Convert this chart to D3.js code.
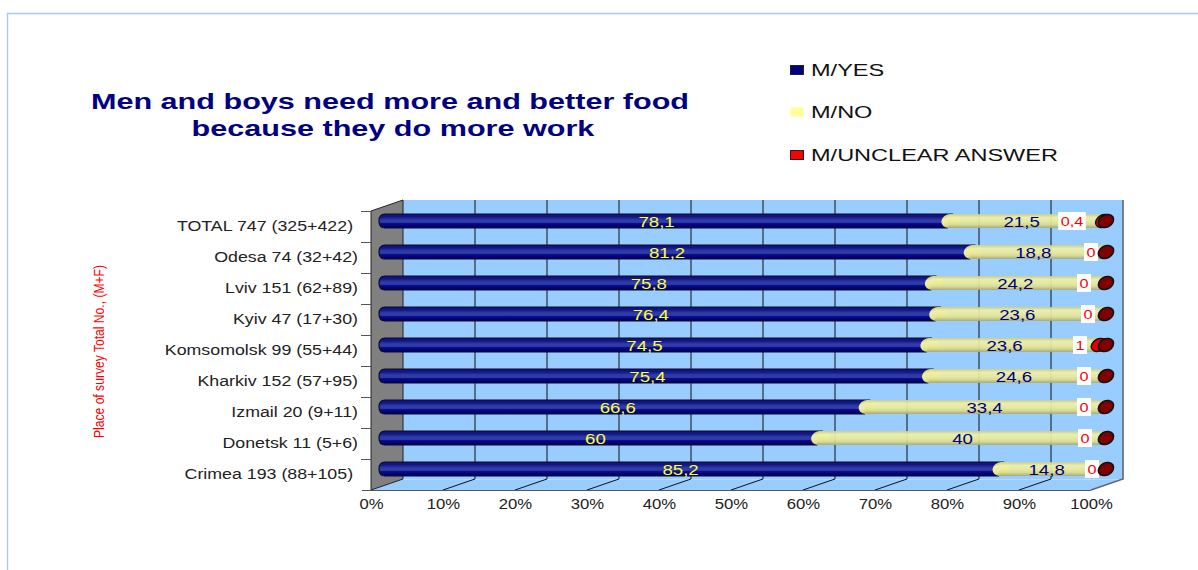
<!DOCTYPE html>
<html><head><meta charset="utf-8">
<script src="https://d3js.org/d3.v7.min.js"></script>
<style>
html,body{margin:0;padding:0;background:#fff;overflow:hidden}
svg{display:block}
text{font-family:"Liberation Sans",Arial,sans-serif}
</style></head><body><svg id="c" width="1198" height="570"></svg>
<script>
const categories=["TOTAL 747 (325+422) ","Odesa 74 (32+42)","Lviv 151 (62+89)","Kyiv 47 (17+30)","Komsomolsk 99 (55+44)","Kharkiv 152 (57+95)","Izmail 20 (9+11)","Donetsk 11 (5+6)","Crimea 193 (88+105) "];
const yesValues=[78.1,81.2,75.8,76.4,74.5,75.4,66.6,60,85.2];
const noValues=[21.5,18.8,24.2,23.6,23.6,24.6,33.4,40,14.8];
const unclearValues=[0.4,0,0,0,1,0,0,0,0];
const yesLabels=["78,1","81,2","75,8","76,4","74,5","75,4","66,6","60","85,2"];
const noLabels=["21,5","18,8","24,2","23,6","23,6","24,6","33,4","40","14,8"];
const unclearLabels=["0,4","0","0","0","1","0","0","0","0"];
const unclearNudge=[-16,3,-4,0,-8,-4,-4,-3,4];
const legendNames=["M/YES","M/NO","M/UNCLEAR ANSWER"];
const legendColors=["#000080","#FFFF99","#FF0000"];
const titleLines=["Men and boys need more and better food","because they do more work"];
const xTicks=[0,.1,.2,.3,.4,.5,.6,.7,.8,.9,1];

const svg=d3.select("#c");
const dx=32,dy=-11;
const x=d3.scaleLinear().domain([0,1]).range([371,1091]);
const y=d3.scaleBand().domain(categories).range([211,490]);
const bx=v=>x(v)+dx/2;            // bars sit halfway through the depth
const by=c=>y(c)+y.bandwidth()/2+dy/2;
const barH=14;

function stretch(sel,k){sel.each(function(){const w=this.getComputedTextLength();
  d3.select(this).attr("textLength",w*k).attr("lengthAdjust","spacingAndGlyphs");});return sel;}

// defs
const defs=svg.append("defs");
function grad(id,stops){const g=defs.append("linearGradient").attr("id",id).attr("x1",0).attr("y1",0).attr("x2",0).attr("y2",1);
  stops.forEach(s=>g.append("stop").attr("offset",s[0]).attr("stop-color",s[1]));}
grad("gy",[[0,"#14146e"],[.2,"#14148a"],[.42,"#2d3ca6"],[.6,"#2d3ca6"],[.68,"#0c0c88"],[.9,"#000070"],[1,"#000050"]]);
grad("gn",[[0,"#cccc8c"],[.25,"#f0f0a8"],[.55,"#eaea9c"],[.75,"#dcdc8c"],[1,"#a8a874"]]);

// page frame
svg.append("path").attr("d","M7.5,570V13.5H1198").attr("fill","none").attr("stroke","#A6CAF0").attr("stroke-width",1.4);

// title
stretch(svg.append("g").selectAll("text").data(titleLines).join("text").attr("fill","#000080").attr("font-weight","bold").attr("font-size",22).attr("text-anchor","middle")
  .attr("x",(d,i)=>i?393:390).attr("y",(d,i)=>i?136:109).text(d=>d),1.39);

// legend
const lg=svg.append("g").selectAll("g").data(legendNames).join("g").attr("transform",(d,i)=>`translate(790,${[70,112,155][i]})`);
lg.append("rect").attr("x",0.5).attr("y",-4.5).attr("width",13).attr("height",9).attr("fill",(d,i)=>legendColors[i]).attr("stroke",(d,i)=>i==1?"none":"#222").attr("stroke-width",1);
stretch(lg.append("text").attr("x",21).attr("y",6).attr("font-size",16).attr("fill","#111").text(d=>d),1.47);

// back wall, floor, side wall
const x0=x(0),x1=x(1),yT=y.range()[0],yB=y.range()[1];
svg.append("rect").attr("x",x0+dx).attr("y",yT+dy).attr("width",x1-x0).attr("height",yB-yT).attr("fill","#99CCFF");
svg.append("path").attr("d",`M${x0},${yB}L${x1},${yB}L${x1+dx},${yB+dy}L${x0+dx},${yB+dy}Z`).attr("fill","#99CCFF");
svg.append("path").attr("d",`M${x0+dx},${yB+dy+.5}H${x1+dx}`).attr("stroke","#b4dcff").attr("stroke-width",1.2);
svg.append("path").attr("d",`M${x0},${yT}L${x0+dx},${yT+dy}V${yB+dy}L${x0},${yB}Z`).attr("fill","#808080").attr("stroke","#222").attr("stroke-width",1);
// gridlines
svg.append("g").selectAll("path").data(xTicks.slice(1,-1)).join("path")
  .attr("d",v=>`M${x(v)},${yB}L${x(v)+dx},${yB+dy}V${yT+dy}`).attr("fill","none").attr("stroke","#111").attr("stroke-width",1);
// right edge
svg.append("path").attr("d",`M${x1},${yB}L${x1+dx},${yB+dy}V${yT+dy}`).attr("fill","none").attr("stroke","#666").attr("stroke-width",1.6);

// x axis
const ax=svg.append("g").attr("transform",`translate(0,${yB})`)
  .call(d3.axisBottom(x).tickValues(xTicks).tickFormat(d3.format(".0%")).tickSize(0).tickPadding(9));
ax.select(".domain").remove();
stretch(ax.selectAll("text").attr("font-size",14).attr("fill","#222").attr("font-family",null),1.19);
svg.append("path").attr("d",`M${x0-9},${yB+.5}H${x1}`).attr("stroke","#555").attr("stroke-width",1);

// y axis labels + boundary ticks
const ay=svg.append("g").attr("transform",`translate(${x0},0)`)
  .call(d3.axisLeft(y).tickSize(0).tickPadding(13));
ay.select(".domain").remove();
stretch(ay.selectAll("text").attr("font-size",14).attr("fill","#222").style("white-space","pre").attr("font-family",null),1.27);
svg.append("g").selectAll("path").data(categories.map(c=>y(c))).join("path")
  .attr("d",v=>`M${x0-10},${v+.5}H${x0}`).attr("stroke","#555").attr("stroke-width",1);

// y title
svg.append("text").attr("transform","translate(104,438) rotate(-90)").attr("fill","#FF0000").attr("font-size",15)
  .attr("textLength",173).attr("lengthAdjust","spacingAndGlyphs").text("Place of survey Total No., (M+F)");

// stacked 3-D bars
const rows=categories.map((c,i)=>{const t=yesValues[i]+noValues[i]+unclearValues[i];
  return {c,i,yes:yesValues[i]/t,no:noValues[i]/t,un:unclearValues[i]/t};});
const bars=svg.append("g").selectAll("g").data(rows).join("g").attr("transform",d=>`translate(0,${by(d.c)})`);
const capRot=-30;
// no
bars.append("rect").attr("x",d=>bx(d.yes)).attr("y",-barH/2).attr("height",barH)
  .attr("width",d=>bx(d.yes+d.no)-bx(d.yes)).attr("fill","url(#gn)").attr("fill-opacity",.92);
// white label plates sit on the no bar
const uG=bars.append("g").attr("transform",d=>`translate(${1088+unclearNudge[d.i]},0)`);
uG.append("rect").attr("fill","#fff");
const uT=uG.append("text").attr("y",4.5).attr("text-anchor","middle").attr("font-size",13).attr("fill","#FF0000").text(d=>unclearLabels[d.i]);
stretch(uT,1.25);
uT.each(function(){const w=this.getComputedTextLength();
  d3.select(this.parentNode).select("rect").attr("x",-w/2-2.5).attr("width",w+5).attr("y",-9).attr("height",18);});
// unclear
bars.filter(d=>d.un>0).append("rect").attr("x",d=>bx(d.yes+d.no)).attr("y",-barH/2).attr("height",barH)
  .attr("width",d=>bx(1)-bx(d.yes+d.no)).attr("fill","#E00000");
bars.filter(d=>d.un>0).append("ellipse").attr("transform",d=>`translate(${bx(d.yes+d.no)-1},0) rotate(${capRot})`)
  .attr("rx",8).attr("ry",6).attr("fill","#E00000").attr("stroke","#111").attr("stroke-width",1.4);
// end cap
bars.append("ellipse").attr("transform",`translate(${bx(1)-1},0) rotate(${capRot})`)
  .attr("rx",8).attr("ry",6).attr("fill","#800000").attr("stroke","#111").attr("stroke-width",1.6);
// yes
bars.append("path").attr("d",d=>{const e=bx(d.yes),l=bx(0)-8,h=barH/2,r=6;
   return `M${e+3},${-h}H${l+r}Q${l},${-h} ${l},0Q${l},${h} ${l+r},${h}H${e-2}Z`;})
  .attr("fill","url(#gy)").attr("stroke","#0a0a2a").attr("stroke-width",1.2);
// no-left cap over the yes end
bars.append("ellipse").attr("transform",d=>`translate(${bx(d.yes)},0) rotate(-18)`)
  .attr("rx",8).attr("ry",6.8).attr("fill","url(#gn)");
bars.append("path").attr("d",d=>{const e=bx(d.yes);return `M${e+1},${-barH/2}H${e+10}V${barH/2}H${e+1}Z`;}).attr("fill","url(#gn)");

// value labels
const yesX=d3.scaleLinear().domain([0,1]).range([393,1068]);
const noX=d3.scaleLinear().domain([0,1]).range([429,1096]);
stretch(bars.append("text").attr("x",d=>yesX(yesValues[d.i]/100/2)).attr("y",6).attr("text-anchor","middle").attr("font-size",14).attr("fill","#FFFF33").text(d=>yesLabels[d.i]),1.33);
stretch(bars.append("text").attr("x",d=>noX((yesValues[d.i]+noValues[d.i]/2)/100)).attr("y",6).attr("text-anchor","middle").attr("font-size",14).attr("fill","#000080").text(d=>noLabels[d.i]),1.33);
</script></body></html>
